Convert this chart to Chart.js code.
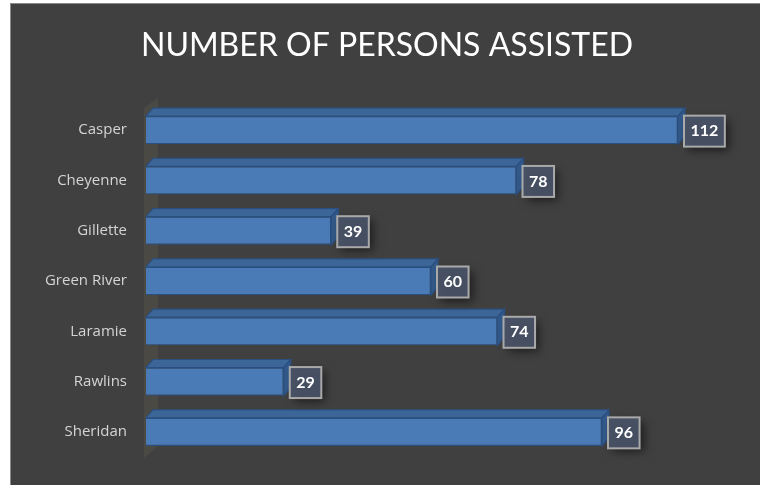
<!DOCTYPE html>
<html>
<head>
<meta charset="utf-8">
<script src="https://cdn.jsdelivr.net/npm/chart.js@4"></script>
<style>
  body { margin: 0; background: #fff; }
</style>
</head>
<body>
<canvas id="mychart" width="760" height="485"></canvas>
<script>
const chartTitle = 'NUMBER OF PERSONS ASSISTED';
const categories = ['Casper', 'Cheyenne', 'Gillette', 'Green River', 'Laramie', 'Rawlins', 'Sheridan'];
const persons = [112, 78, 39, 60, 74, 29, 96];
const axisMin = 0;
const axisMax = 120;

// 3d look for the bars (depth of the extruded faces)
const depthX = 7;
const depthY = 8;

const backdrop = {
  id: 'backdrop',
  beforeDraw(chart) {
    const ctx = chart.ctx;
    ctx.save();
    ctx.fillStyle = '#ffffff';
    ctx.fillRect(0, 0, chart.width, chart.height);
    ctx.fillStyle = '#404040';
    ctx.fillRect(10, 3, chart.width - 10, chart.height - 3);
    ctx.strokeStyle = '#8a8a8a';
    ctx.lineWidth = 1;
    ctx.strokeRect(10.5, 3.5, chart.width, chart.height);
    // title
    ctx.fillStyle = '#ffffff';
    ctx.font = '32px Lato, "Open Sans", sans-serif';
    ctx.textAlign = 'center';
    ctx.textBaseline = 'alphabetic';
    ctx.fillText(chartTitle, 387, 56);
    ctx.restore();
  },
  beforeDatasetsDraw(chart) {
    // the side wall of the 3d plot
    const { ctx, chartArea } = chart;
    const l = chartArea.left - 2;
    ctx.save();
    ctx.fillStyle = '#4b4943';
    ctx.beginPath();
    ctx.moveTo(l, chartArea.top + 3);
    ctx.lineTo(l + 14, chartArea.top - 7);
    ctx.lineTo(l + 14, chartArea.bottom - 11);
    ctx.lineTo(l, chartArea.bottom + 1);
    ctx.closePath();
    ctx.fill();
    ctx.restore();
  }
};

const bars3d = {
  id: 'bars3d',
  afterDatasetsDraw(chart) {
    const ctx = chart.ctx;
    const meta = chart.getDatasetMeta(0);
    ctx.save();
    ctx.lineWidth = 1.2;
    ctx.strokeStyle = '#2b5080';
    meta.data.forEach((bar) => {
      const { x, y, base, height } = bar.getProps(['x', 'y', 'base', 'height'], true);
      const top = y - height / 2;
      const bottom = y + height / 2;
      // top face
      ctx.fillStyle = '#3c6698';
      ctx.beginPath();
      ctx.moveTo(base, top);
      ctx.lineTo(base + depthX, top - depthY);
      ctx.lineTo(x + depthX, top - depthY);
      ctx.lineTo(x, top);
      ctx.closePath();
      ctx.fill();
      ctx.stroke();
      // right face
      ctx.fillStyle = '#335a8a';
      ctx.beginPath();
      ctx.moveTo(x, top);
      ctx.lineTo(x + depthX, top - depthY);
      ctx.lineTo(x + depthX, bottom - depthY);
      ctx.lineTo(x, bottom);
      ctx.closePath();
      ctx.fill();
      ctx.stroke();
    });

    // value boxes
    ctx.font = 'bold 16px Lato, "Open Sans", sans-serif';
    ctx.textAlign = 'center';
    ctx.textBaseline = 'middle';
    meta.data.forEach((bar, i) => {
      const { x, y } = bar.getProps(['x', 'y'], true);
      const txt = String(persons[i]);
      const w = ctx.measureText(txt).width + 13;
      const h = 31;
      const bx = x + 6;
      const by = y - h / 2 + 1;
      ctx.save();
      ctx.shadowColor = 'rgba(0,0,0,0.6)';
      ctx.shadowBlur = 9;
      ctx.shadowOffsetX = 4;
      ctx.shadowOffsetY = 4;
      ctx.fillStyle = 'rgba(74, 84, 104, 0.92)';
      ctx.fillRect(bx, by, w, h);
      ctx.restore();
      ctx.strokeStyle = '#a9a9a9';
      ctx.lineWidth = 2;
      ctx.strokeRect(bx, by, w, h);
      ctx.fillStyle = '#ffffff';
      ctx.fillText(txt, bx + w / 2, y + 1);
    });
    ctx.restore();
  }
};

new Chart(document.getElementById('mychart'), {
  type: 'bar',
  data: {
    labels: categories,
    datasets: [{
      label: 'Persons assisted',
      data: persons,
      backgroundColor: '#4a7bb7',
      borderColor: '#2b5080',
      borderWidth: 1.2,
      barPercentage: 0.56,
      categoryPercentage: 1
    }]
  },
  options: {
    indexAxis: 'y',
    responsive: false,
    animation: false,
    layout: { padding: { left: 0, top: 105, right: 44, bottom: 28 } },
    plugins: {
      legend: { display: false },
      tooltip: { enabled: false },
      title: { display: false }
    },
    scales: {
      x: {
        display: false,
        min: axisMin,
        max: axisMax
      },
      y: {
        grid: { display: false, drawTicks: false },
        border: { display: false },
        ticks: {
          color: '#d4d4d4',
          padding: 19,
          font: { family: '"Open Sans", Lato, sans-serif', size: 15 }
        },
        afterFit(scale) { scale.width = 146; }
      }
    }
  },
  plugins: [backdrop, bars3d]
});
</script>
</body>
</html>
